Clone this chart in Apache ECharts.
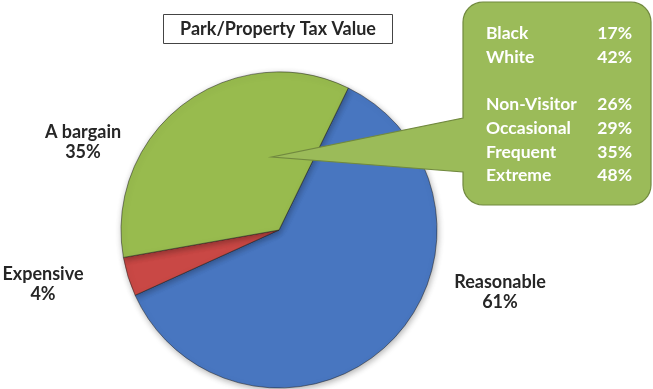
<!DOCTYPE html>
<html>
<head>
<meta charset="utf-8">
<script src="https://cdn.jsdelivr.net/npm/echarts@6/dist/echarts.min.js"></script>
<style>
  html, body { margin: 0; padding: 0; background: #fff; }
  #chart { width: 653px; height: 389px; }
</style>
</head>
<body>
<div id="chart"></div>
<script>
// Survey answers: how respondents rate park value relative to property tax
const categories = ['Reasonable', 'Expensive', 'A bargain'];
const shares = [61, 4, 35];
const sliceColors = ['#4876C0', '#C94845', '#98BB4E'];

// "A bargain" share broken out by respondent group (shown in the callout)
const groupNames = ['Black', 'White', '', 'Non-Visitor', 'Occasional', 'Frequent', 'Extreme'];
const groupShares = ['17%', '42%', '', '26%', '29%', '35%', '48%'];

const titleText = 'Park/Property Tax Value';

// Where each slice label sits on the canvas
const labelSpots = [[500, 292], [43, 284], [83, 142]];

const FONT = 'Lato, "Open Sans", sans-serif';

const chart = echarts.init(document.getElementById('chart'), null, { renderer: 'canvas' });

// Callout bubble outline: rounded box plus a pointer aimed into the green slice
function bubblePoints(x0, y0, x1, y1, r, tip, pTop, pBot) {
  const pts = [];
  const arc = (cx, cy, a0, a1) => {
    for (let k = 0; k <= 8; k++) {
      const a = a0 + (a1 - a0) * k / 8;
      pts.push([cx + r * Math.cos(a), cy + r * Math.sin(a)]);
    }
  };
  arc(x0 + r, y0 + r, Math.PI, Math.PI * 1.5);      // top-left
  arc(x1 - r, y0 + r, Math.PI * 1.5, Math.PI * 2);  // top-right
  arc(x1 - r, y1 - r, 0, Math.PI * 0.5);            // bottom-right
  arc(x0 + r, y1 - r, Math.PI * 0.5, Math.PI);      // bottom-left
  pts.push([x0, pBot], tip, [x0, pTop]);
  return pts;
}
const bubble = bubblePoints(463, 2, 651, 205, 20, [272, 157], 118, 172);

const calloutTexts = [];
const rowY = [33, 57, 81, 104, 128, 152, 175];
groupNames.forEach((name, i) => {
  if (!name) return;
  calloutTexts.push({
    type: 'text', z: 101,
    style: { text: name, x: 486, y: rowY[i], fill: '#fff', font: 'bold 17.5px ' + FONT,
             textAlign: 'left', textVerticalAlign: 'middle' }
  });
  calloutTexts.push({
    type: 'text', z: 101,
    style: { text: groupShares[i], x: 632, y: rowY[i], fill: '#fff', font: 'bold 17.5px ' + FONT,
             textAlign: 'right', textVerticalAlign: 'middle' }
  });
});

chart.setOption({
  animation: false,
  backgroundColor: '#ffffff',
  series: [{
    type: 'pie',
    center: [279, 230],
    radius: 158,
    startAngle: 64,
    clockwise: true,
    data: categories.map((c, i) => ({
      name: c,
      value: shares[i],
      itemStyle: { color: sliceColors[i] }
    })),
    itemStyle: {
      borderColor: 'rgba(30,30,30,0.5)',
      borderWidth: 1,
      shadowBlur: 6,
      shadowOffsetX: 1,
      shadowOffsetY: 2,
      shadowColor: 'rgba(0,0,0,0.3)'
    },
    label: {
      show: true,
      position: 'outside',
      formatter: '{b}\n{d}%',
      fontFamily: FONT,
      fontWeight: 'bold',
      fontSize: 18,
      lineHeight: 20,
      color: '#262626',
      align: 'center',
      overflow: 'none'
    },
    labelLine: { show: false },
    labelLayout: function (params) {
      const p = labelSpots[params.dataIndex];
      return { x: p[0], y: p[1], align: 'center', verticalAlign: 'middle' };
    },
    emphasis: { disabled: true }
  }],
  graphic: [
    {
      type: 'rect', z: 100,
      shape: { x: 163.5, y: 14.5, width: 229, height: 29 },
      style: { fill: '#fff', stroke: '#444', lineWidth: 1 }
    },
    {
      type: 'text', z: 101,
      style: { text: titleText, x: 278, y: 29, fill: '#262626', font: 'bold 18px ' + FONT,
               textAlign: 'center', textVerticalAlign: 'middle' }
    },
    {
      type: 'polygon', z: 100,
      shape: { points: bubble },
      style: { fill: '#9BBB59', stroke: '#71893F', lineWidth: 1.2 }
    }
  ].concat(calloutTexts)
});
</script>
</body>
</html>
